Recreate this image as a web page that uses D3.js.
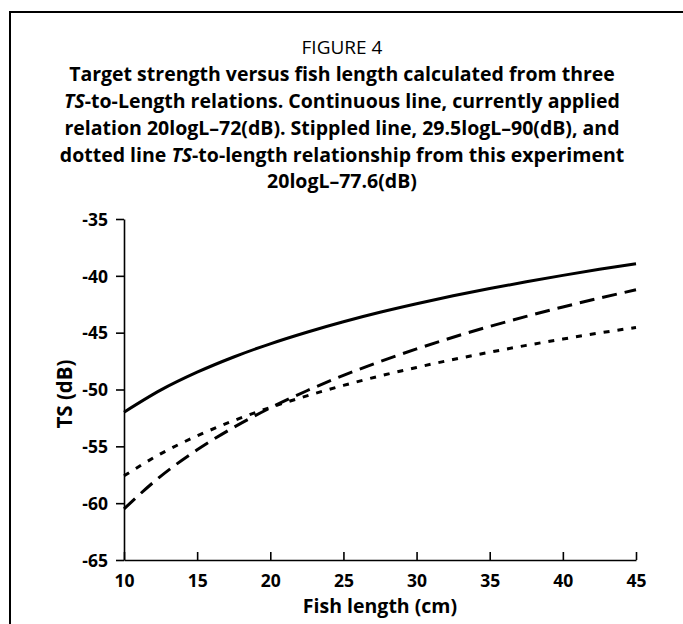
<!DOCTYPE html>
<html>
<head>
<meta charset="utf-8">
<script src="https://cdn.jsdelivr.net/npm/d3@7"></script>
<style>
  html, body { margin: 0; padding: 0; background: #fff; }
  svg { display: block; }
  text { font-family: "Open Sans", "Noto Sans", sans-serif; fill: #000; }
</style>
</head>
<body>
<script>
// Fish length (cm) at which each TS relation is tabulated
const lengths = [10, 12.5, 15, 17.5, 20, 22.5, 25, 27.5, 30, 32.5, 35, 37.5, 40, 42.5, 45];

// TS (dB) for the currently applied relation 20logL–72 (continuous)
const tsCurrent = [-52.0, -50.06, -48.48, -47.14, -45.98, -44.96, -44.04, -43.21, -42.46, -41.76, -41.12, -40.52, -39.96, -39.43, -38.94];

// TS (dB) for 29.5logL–90 (stippled)
const tsStippled = [-60.5, -57.64, -55.31, -53.33, -51.62, -50.11, -48.76, -47.54, -46.43, -45.40, -44.45, -43.57, -42.74, -41.96, -41.23];

// TS (dB) for this experiment's 20logL–77.6 (dotted)
const tsExperiment = [-57.6, -55.66, -54.08, -52.74, -51.58, -50.56, -49.64, -48.81, -48.06, -47.36, -46.72, -46.12, -45.56, -45.03, -44.54];

const xTicks = [10, 15, 20, 25, 30, 35, 40, 45];
const yTicks = [-35, -40, -45, -50, -55, -60, -65];

const W = 683, H = 624;
const svg = d3.select("body").append("svg").attr("width", W).attr("height", H);

// frame around the figure (runs off the right and bottom edges)
svg.append("rect")
  .attr("x", 10).attr("y", 12)
  .attr("width", W + 20).attr("height", H + 20)
  .attr("fill", "none").attr("stroke", "#000").attr("stroke-width", 2);

// heading
svg.append("text")
  .attr("x", 342).attr("y", 54)
  .attr("text-anchor", "middle")
  .style("font-size", "19px")
  .text("FIGURE 4");

const titleLines = [
  [["Target strength versus fish length calculated from three", false]],
  [["TS", true], ["-to-Length relations. Continuous line, currently applied", false]],
  [["relation 20logL–72(dB). Stippled line, 29.5logL–90(dB), and", false]],
  [["dotted line ", false], ["TS", true], ["-to-length relationship from this experiment", false]],
  [["20logL–77.6(dB)", false]]
];
const titleBaselines = [81, 108, 135, 162, 188];
titleLines.forEach((parts, i) => {
  const t = svg.append("text")
    .attr("x", 342).attr("y", titleBaselines[i])
    .attr("text-anchor", "middle")
    .style("font-size", "19.5px").style("font-weight", "bold");
  parts.forEach(([s, it]) => {
    t.append("tspan").style("font-style", it ? "italic" : "normal").text(s);
  });
});

// scales
const x = d3.scaleLinear().domain([10, 45]).range([124, 636]);
const y = d3.scaleLinear().domain([-65, -35]).range([560, 219]);

// axes (plain hyphen for negative numbers)
const fmt = d => String(d);
const xAxis = svg.append("g")
  .attr("transform", `translate(0,${y(-65)})`)
  .call(d3.axisBottom(x).tickValues(xTicks).tickFormat(fmt).tickSize(8).tickSizeOuter(0));
const yAxis = svg.append("g")
  .attr("transform", `translate(${x(10)},0)`)
  .call(d3.axisLeft(y).tickValues(yTicks).tickFormat(fmt).tickSize(8).tickSizeOuter(0).tickPadding(8));

[xAxis, yAxis].forEach(g => {
  g.select(".domain").attr("stroke", "#000").attr("stroke-width", 1.6);
  g.selectAll(".tick line").attr("stroke", "#000").attr("stroke-width", 1.6);
  g.selectAll(".tick text")
    .style("font-family", '"Open Sans", "Noto Sans", sans-serif')
    .style("font-size", "17.5px").style("font-weight", "bold").attr("fill", "#000");
});
xAxis.selectAll(".tick line").attr("y2", -8);
xAxis.selectAll(".tick text").attr("y", 27).attr("dy", null);
yAxis.selectAll(".tick text").attr("dy", "0.36em");

// axis titles
svg.append("text")
  .attr("x", 380).attr("y", 613)
  .attr("text-anchor", "middle")
  .style("font-size", "19.5px").style("font-weight", "bold")
  .text("Fish length (cm)");
svg.append("text")
  .attr("transform", "translate(72,394) rotate(-90)")
  .attr("text-anchor", "middle")
  .style("font-size", "20.5px").style("font-weight", "bold")
  .text("TS (dB)");

// curves
const line = d3.line()
  .x((d, i) => x(lengths[i]))
  .y(d => y(d))
  .curve(d3.curveMonotoneX);

const series = [
  { values: tsCurrent, dash: null },
  { values: tsStippled, dash: "15 8" },
  { values: tsExperiment, dash: "6 8" }
];
svg.append("g").selectAll("path")
  .data(series)
  .join("path")
  .attr("d", d => line(d.values))
  .attr("fill", "none")
  .attr("stroke", "#000")
  .attr("stroke-width", 3)
  .attr("stroke-dasharray", d => d.dash);
</script>
</body>
</html>
